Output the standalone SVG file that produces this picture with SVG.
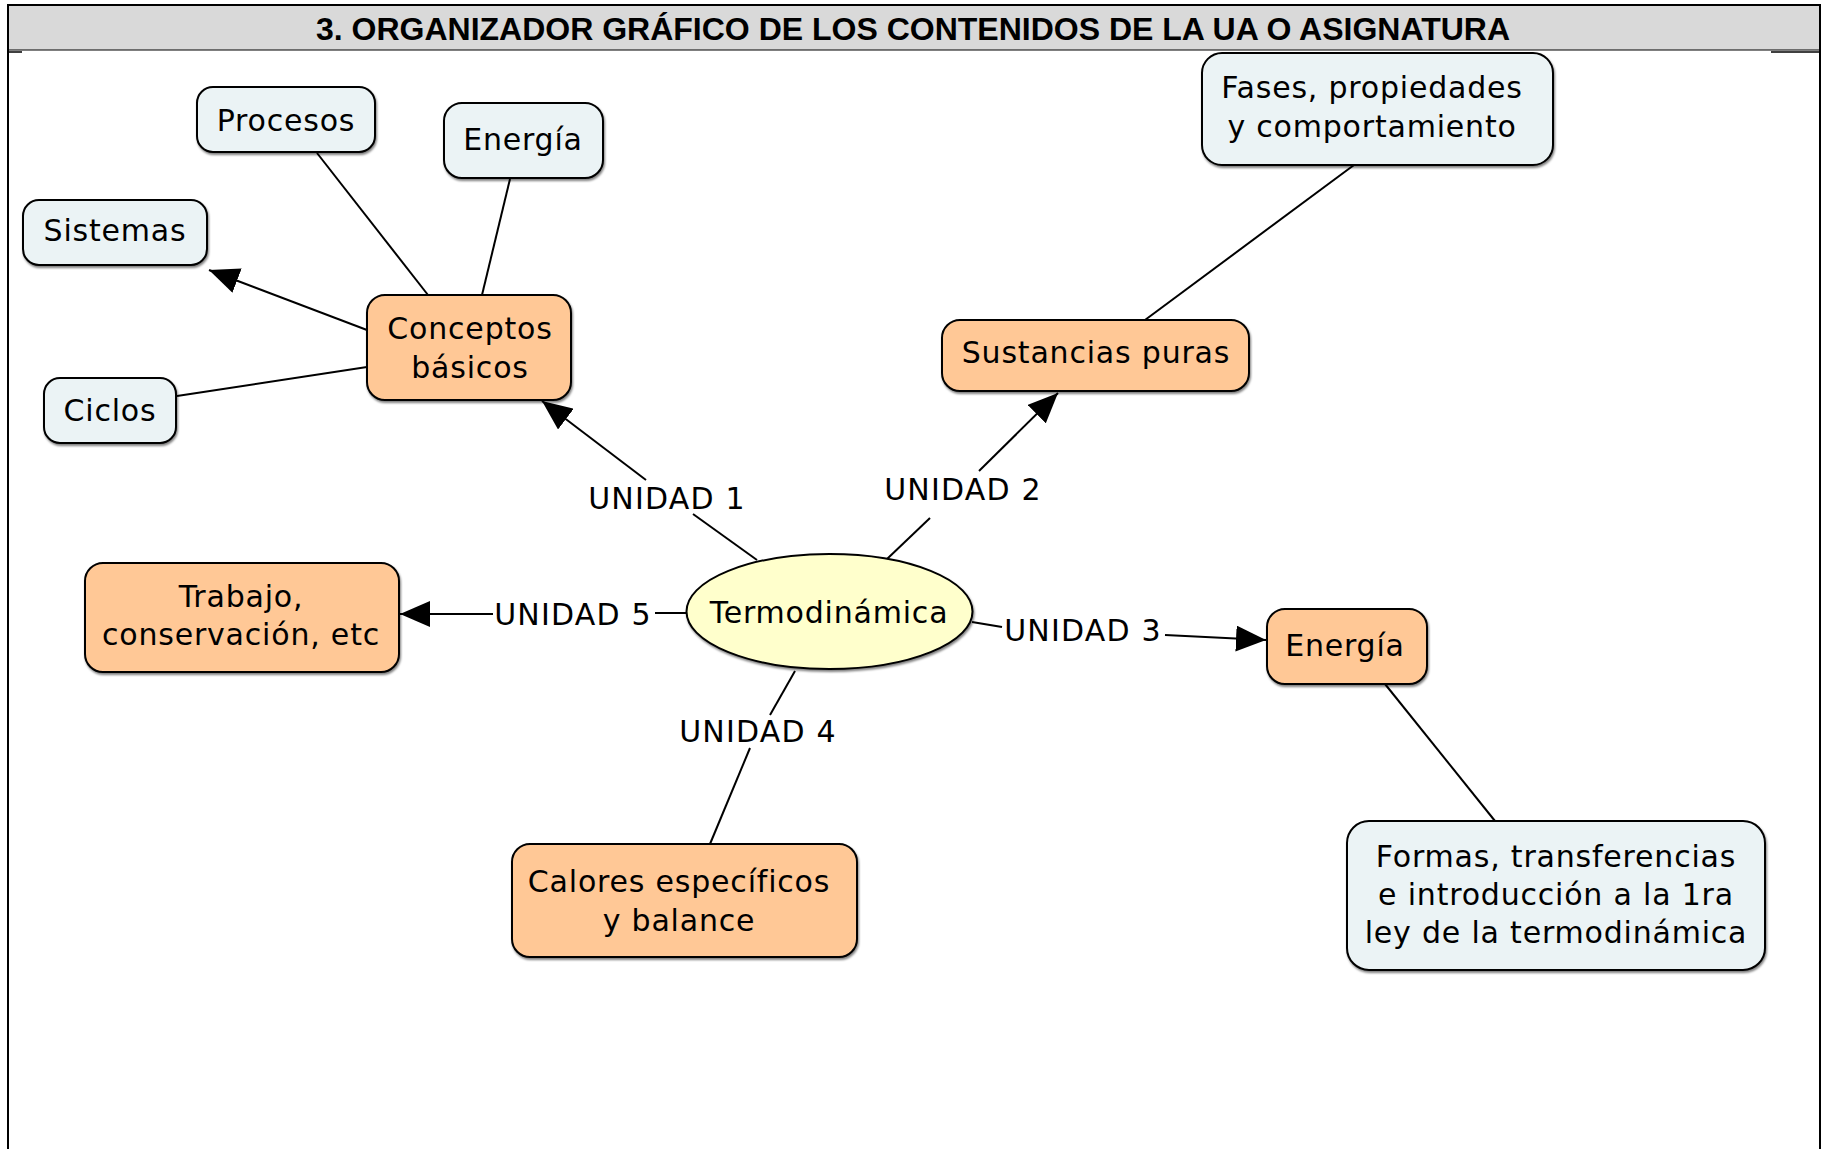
<svg xmlns="http://www.w3.org/2000/svg" width="1823" height="1149" viewBox="0 0 1823 1149">
<style>
.t{font-family:"DejaVu Sans","Verdana",sans-serif;font-size:30px;letter-spacing:0.8px;fill:#000;text-anchor:middle}
.u{letter-spacing:1.2px}
.o{fill:#FFC896;stroke:#000;stroke-width:2}
.b{fill:#EBF3F5;stroke:#000;stroke-width:2}
.c{stroke:#000;stroke-width:2;fill:none}
.a{stroke:#000;stroke-width:2;fill:none;marker-end:url(#arr)}
.hdr{font-family:"Liberation Sans",Arial,sans-serif;font-size:32px;font-weight:bold;text-anchor:middle}
</style>
<defs>
<marker id="arr" markerUnits="userSpaceOnUse" markerWidth="32" markerHeight="26" viewBox="0 0 32 26" refX="30" refY="13" orient="auto">
<path d="M0,0 L30,13 L0,26 Z" fill="#000"/>
</marker>
<filter id="sh" x="-5%" y="-5%" width="115%" height="125%">
<feDropShadow dx="1" dy="2" stdDeviation="1" flood-color="#000" flood-opacity="0.5"/>
</filter>
</defs>
<rect width="1823" height="1149" fill="#fff"/>
<g id="header">
<rect x="8" y="5" width="1812" height="45" fill="#D9D9D9"/>
<line x1="7" y1="5" x2="1821" y2="5" stroke="#000" stroke-width="2"/>
<line x1="8" y1="4" x2="8" y2="1149" stroke="#000" stroke-width="2"/>
<line x1="1820" y1="4" x2="1820" y2="1149" stroke="#000" stroke-width="2"/>
<line x1="8" y1="50" x2="1820" y2="50" stroke="#000" stroke-width="1"/>
<line x1="8" y1="52" x2="22" y2="52" stroke="#000" stroke-width="1.5"/>
<line x1="1771" y1="52" x2="1820" y2="52" stroke="#000" stroke-width="1.5"/>
<text class="hdr" x="913" y="40">3. ORGANIZADOR GRÁFICO DE LOS CONTENIDOS DE LA UA O ASIGNATURA</text>
</g>
<g id="connectors">
<line class="c" x1="757" y1="560" x2="693" y2="514"/>
<line class="a" x1="646" y1="480" x2="542" y2="401"/>
<line class="c" x1="887" y1="559" x2="930" y2="518"/>
<line class="a" x1="979" y1="471" x2="1058" y2="393"/>
<line class="c" x1="972" y1="622" x2="1002" y2="627"/>
<line class="a" x1="1165" y1="635" x2="1266" y2="640"/>
<line class="c" x1="795" y1="671" x2="770" y2="715"/>
<line class="c" x1="750" y1="748" x2="710" y2="844"/>
<line class="c" x1="686" y1="613" x2="655" y2="613"/>
<line class="a" x1="493" y1="614" x2="400" y2="614"/>
<line class="c" x1="317" y1="153" x2="428" y2="295"/>
<line class="c" x1="510" y1="179" x2="482" y2="295"/>
<line class="a" x1="367" y1="330" x2="209" y2="270"/>
<line class="c" x1="367" y1="367" x2="177" y2="396"/>
<line class="c" x1="1354" y1="165" x2="1145" y2="320"/>
<line class="c" x1="1385" y1="684" x2="1495" y2="821"/>
<text class="t u" x="667" y="509">UNIDAD 1</text>
<text class="t u" x="963" y="500">UNIDAD 2</text>
<text class="t u" x="1083" y="641">UNIDAD 3</text>
<text class="t u" x="758" y="742">UNIDAD 4</text>
<text class="t u" x="573" y="625">UNIDAD 5</text>
</g>
<g id="procesos"><rect class="b" filter="url(#sh)" x="197" y="87" width="178" height="65" rx="16"/><text class="t" x="286" y="131">Procesos</text></g>
<g id="energia1"><rect class="b" filter="url(#sh)" x="444" y="103" width="159" height="75" rx="18"/><text class="t" x="523" y="150">Energía</text></g>
<g id="sistemas"><rect class="b" filter="url(#sh)" x="23" y="200" width="184" height="65" rx="16"/><text class="t" x="115" y="241">Sistemas</text></g>
<g id="ciclos"><rect class="b" filter="url(#sh)" x="44" y="378" width="132" height="65" rx="16"/><text class="t" x="110" y="421">Ciclos</text></g>
<g id="conceptos"><rect class="o" filter="url(#sh)" x="367" y="295" width="204" height="105" rx="18"/><text class="t" x="470" y="339">Conceptos</text><text class="t" x="470" y="378">básicos</text></g>
<g id="fases"><rect class="b" filter="url(#sh)" x="1202" y="53" width="351" height="112" rx="20"/><text class="t" x="1372" y="98">Fases, propiedades</text><text class="t" x="1372" y="137">y comportamiento</text></g>
<g id="sustancias"><rect class="o" filter="url(#sh)" x="942" y="320" width="307" height="71" rx="18"/><text class="t" x="1096" y="363">Sustancias puras</text></g>
<g id="termodinamica"><ellipse cx="829.5" cy="611.5" rx="143" ry="57.5" fill="#FFFFCC" stroke="#000" stroke-width="2" filter="url(#sh)"/><text class="t" x="829" y="623">Termodinámica</text></g>
<g id="trabajo"><rect class="o" filter="url(#sh)" x="85" y="563" width="314" height="109" rx="18"/><text class="t" x="241" y="607">Trabajo,</text><text class="t" x="241" y="645">conservación, etc</text></g>
<g id="energia2"><rect class="o" filter="url(#sh)" x="1267" y="609" width="160" height="75" rx="18"/><text class="t" x="1345" y="656">Energía</text></g>
<g id="calores"><rect class="o" filter="url(#sh)" x="512" y="844" width="345" height="113" rx="18"/><text class="t" x="679" y="892">Calores específicos</text><text class="t" x="679" y="931">y balance</text></g>
<g id="formas"><rect class="b" filter="url(#sh)" x="1347" y="821" width="418" height="149" rx="22"/><text class="t" x="1556" y="867">Formas, transferencias</text><text class="t" x="1556" y="905">e introducción a la 1ra</text><text class="t" x="1556" y="943">ley de la termodinámica</text></g>
</svg>
